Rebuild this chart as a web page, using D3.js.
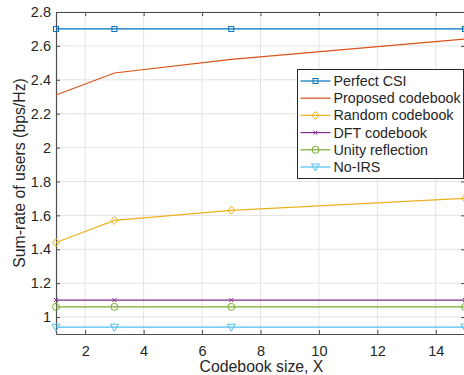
<!DOCTYPE html>
<html>
<head>
<meta charset="utf-8">
<script src="https://cdn.jsdelivr.net/npm/d3@7"></script>
<style>
  body { margin: 0; background: #fff; }
  text { font-family: "Liberation Sans", Arial, Helvetica, sans-serif; fill: #262626; }
</style>
</head>
<body>
<div class="chart"></div>
<script>
// codebook sizes and sum-rates per scheme
var codebookSize = [1, 3, 7, 15];
var perfectCSI   = [2.70, 2.70, 2.70, 2.70];
var proposed     = [2.31, 2.44, 2.52, 2.64];
var randomCb     = [1.44, 1.57, 1.63, 1.70];
var dftCb        = [1.10, 1.10, 1.10, 1.10];
var unityRefl    = [1.06, 1.06, 1.06, 1.06];
var noIRS        = [0.94, 0.94, 0.94, 0.94];

var xTicks = [2, 4, 6, 8, 10, 12, 14];
var yTicks = [1, 1.2, 1.4, 1.6, 1.8, 2, 2.2, 2.4, 2.6, 2.8];

var series = [
    {name: "Perfect CSI",        values: perfectCSI, color: "#0072BD", marker: "square"},
    {name: "Proposed codebook",  values: proposed,   color: "#D95319", marker: "none"},
    {name: "Random codebook",    values: randomCb,   color: "#EDB120", marker: "diamond"},
    {name: "DFT codebook",       values: dftCb,      color: "#7E2F8E", marker: "cross"},
    {name: "Unity reflection",   values: unityRefl,  color: "#77AC30", marker: "circle"},
    {name: "No-IRS",             values: noIRS,      color: "#4DBEEE", marker: "triangle"}
];

var width = 464, height = 375;
var margin = {left: 56, right: -1, top: 12, bottom: 41};

var svg = d3.select(".chart")
    .append("svg")
    .attr("width", width)
    .attr("height", height);

var x = d3.scaleLinear().domain([1, 15]).range([margin.left, width - margin.right]);
var y = d3.scaleLinear().domain([0.9, 2.8]).range([height - margin.bottom, margin.top]);

// grid
svg.append("g").selectAll("line")
    .data(xTicks).enter().append("line")
    .attr("x1", d => x(d)).attr("x2", d => x(d))
    .attr("y1", y(0.9)).attr("y2", y(2.8))
    .attr("stroke", "#e3e3e3").attr("stroke-width", 1);
svg.append("g").selectAll("line")
    .data(yTicks).enter().append("line")
    .attr("x1", x(1)).attr("x2", x(15))
    .attr("y1", d => y(d)).attr("y2", d => y(d))
    .attr("stroke", "#e3e3e3").attr("stroke-width", 1);

// axes (ticks point inward, like a boxed plot)
var fmt = d3.format("~g");
svg.append("g")
    .attr("transform", "translate(0," + y(0.9) + ")")
    .call(d3.axisBottom(x).tickValues(xTicks).tickSizeInner(-4).tickSizeOuter(0).tickPadding(12).tickFormat(fmt))
    .call(g => g.selectAll("text").attr("font-size", 14.5));
svg.append("g")
    .attr("transform", "translate(0," + y(2.8) + ")")
    .call(d3.axisTop(x).tickValues(xTicks).tickSizeInner(-4).tickSizeOuter(0).tickFormat(""));
svg.append("g")
    .attr("transform", "translate(" + x(1) + ",0)")
    .call(d3.axisLeft(y).tickValues(yTicks).tickSizeInner(-4).tickSizeOuter(0).tickPadding(5).tickFormat(fmt))
    .call(g => g.selectAll("text").attr("font-size", 14.5));
svg.append("g")
    .attr("transform", "translate(" + x(15) + ",0)")
    .call(d3.axisRight(y).tickValues(yTicks).tickSizeInner(-4).tickSizeOuter(0).tickFormat(""));

svg.selectAll(".domain").attr("stroke", "#4d4d4d").attr("stroke-width", 1.2);
svg.selectAll(".tick line").attr("stroke", "#4d4d4d");
svg.selectAll(".tick text").style("fill", "#262626");

// markers
function drawMarker(g, type, color) {
    if (type === "square") {
        g.append("rect").attr("x", -2.5).attr("y", -2.5).attr("width", 5).attr("height", 5)
            .attr("fill", "none").attr("stroke", color);
    } else if (type === "diamond") {
        g.append("path").attr("d", "M0,-4L3.5,0L0,4L-3.5,0Z")
            .attr("fill", "none").attr("stroke", color);
    } else if (type === "cross") {
        g.append("path").attr("d", "M-2,-2L2,2M-2,2L2,-2")
            .attr("fill", "none").attr("stroke", color);
    } else if (type === "circle") {
        g.append("circle").attr("r", 3.5)
            .attr("fill", "none").attr("stroke", color);
    } else if (type === "triangle") {
        g.append("path").attr("d", "M-4,-3L4,-3L0,4Z")
            .attr("fill", "none").attr("stroke", color);
    }
}

var line = d3.line()
    .x((d, i) => x(codebookSize[i]))
    .y(d => y(d));

var plot = svg.append("g");
series.forEach(function(s) {
    plot.append("path")
        .attr("d", line(s.values))
        .attr("fill", "none")
        .attr("stroke", s.color)
        .attr("stroke-width", 1.2);
    if (s.marker !== "none") {
        s.values.forEach(function(v, i) {
            var m = plot.append("g")
                .attr("transform", "translate(" + x(codebookSize[i]) + "," + y(v) + ")");
            drawMarker(m, s.marker, s.color);
        });
    }
});

// legend
var legend = svg.append("g").attr("transform", "translate(297.5,69.5)");
legend.append("rect")
    .attr("width", 166).attr("height", 109)
    .attr("fill", "#fff").attr("stroke", "#262626").attr("stroke-width", 1);
series.forEach(function(s, i) {
    var ly = 11.5 + i * 17.2;
    legend.append("line")
        .attr("x1", 3).attr("x2", 33).attr("y1", ly).attr("y2", ly)
        .attr("stroke", s.color).attr("stroke-width", 1.2);
    var m = legend.append("g").attr("transform", "translate(18," + ly + ")");
    drawMarker(m, s.marker, s.color);
    legend.append("text")
        .attr("x", 36).attr("y", ly + 5)
        .attr("font-size", 14.3)
        .text(s.name);
});

// axis labels
svg.append("text")
    .attr("x", (x(1) + x(15)) / 2 + 1).attr("y", 372)
    .attr("text-anchor", "middle")
    .attr("font-size", 15.8)
    .text("Codebook size, X");
svg.append("text")
    .attr("transform", "translate(25," + (y(1.85)) + ") rotate(-90)")
    .attr("text-anchor", "middle")
    .attr("font-size", 15.8)
    .text("Sum-rate of users (bps/Hz)");
</script>
</body>
</html>
